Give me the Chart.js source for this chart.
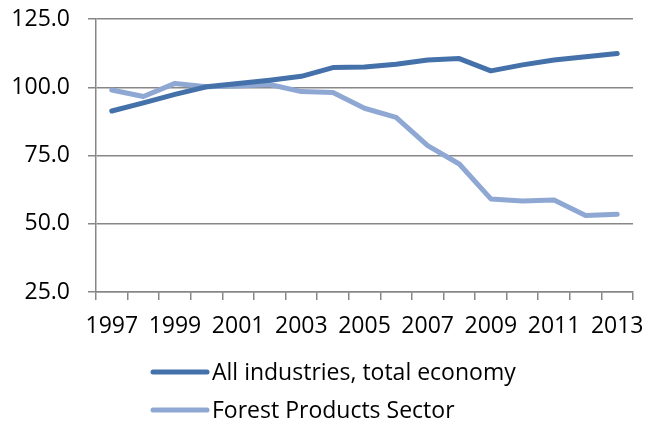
<!DOCTYPE html>
<html>
<head>
<meta charset="utf-8">
<script src="https://cdn.jsdelivr.net/npm/chart.js@4"></script>
<style>
  html, body { margin: 0; padding: 0; background: #fff; }
  #wrap { width: 645px; height: 423px; position: relative; }
</style>
</head>
<body>
<div id="wrap"><canvas id="chart"></canvas></div>
<script>
// ── Data ──────────────────────────────────────────────────
const YEARS = ['1997','1998','1999','2000','2001','2002','2003','2004','2005',
               '2006','2007','2008','2009','2010','2011','2012','2013'];
const ALL_INDUSTRIES = [91.3, 94.3, 97.4, 100.2, 101.4, 102.6, 104.0, 107.2, 107.4,
                        108.4, 110.0, 110.5, 106.0, 108.2, 110.0, 111.2, 112.4];
const FOREST_PRODUCTS = [99.0, 96.6, 101.4, 100.2, 100.5, 101.0, 98.4, 98.1, 92.3,
                         89.0, 78.6, 71.9, 59.1, 58.3, 58.7, 53.0, 53.5];
const SERIES_NAMES = ['All industries, total economy', 'Forest Products Sector'];
const Y_TICKS = [25, 50, 75, 100, 125];

const DARK  = '#4571aa';
const LIGHT = '#8ea8d3';
const GRID  = '#878787';
const FONT  = { family: "'Open Sans', sans-serif", size: 23, lineHeight: 1.2 };

// ── Stacked legend below the plot ─────────────────────────
const stackedLegend = {
  id: 'stackedLegend',
  afterDraw(chart) {
    const ctx = chart.ctx;
    const x0 = 153;
    chart.data.datasets.forEach((ds, i) => {
      const y = 372 + i * 38;
      ctx.save();
      ctx.strokeStyle = ds.borderColor;
      ctx.lineWidth = 5;
      ctx.lineCap = 'round';
      ctx.beginPath();
      ctx.moveTo(x0, y);
      ctx.lineTo(x0 + 54, y);
      ctx.stroke();
      ctx.fillStyle = '#000';
      ctx.font = `${FONT.size}px ${FONT.family}`;
      ctx.textBaseline = 'middle';
      ctx.fillText(ds.label, x0 + 59, y + 1);
      ctx.restore();
    });
  },
};

new Chart(document.getElementById('chart'), {
  type: 'line',
  data: {
    labels: YEARS,
    datasets: [
      { label: SERIES_NAMES[0], data: ALL_INDUSTRIES, borderColor: DARK,
        borderWidth: 5, pointRadius: 0, tension: 0, borderCapStyle: 'round', borderJoinStyle: 'round' },
      { label: SERIES_NAMES[1], data: FOREST_PRODUCTS, borderColor: LIGHT,
        borderWidth: 5, pointRadius: 0, tension: 0, borderCapStyle: 'round', borderJoinStyle: 'round' },
    ],
  },
  options: {
    responsive: true,
    maintainAspectRatio: false,
    animation: false,
    layout: { padding: { top: 19, right: 12, bottom: 83, left: 0 } },
    plugins: { legend: { display: false }, tooltip: { enabled: false } },
    scales: {
      x: {
        offset: true,
        afterFit: axis => { axis.height = 48; axis.paddingLeft = 0; axis.paddingRight = 0; },
        grid: { offset: true, drawOnChartArea: false, drawTicks: true, tickLength: 8,
                color: GRID, lineWidth: 1.5 },
        border: { display: true, color: GRID, width: 1.5 },
        ticks: {
          color: '#000', font: FONT, padding: 13, autoSkip: false, maxRotation: 0,
          callback: (v, i) => (i % 2 === 0 ? YEARS[i] : ''),
        },
      },
      y: {
        min: 25, max: 125,
        afterBuildTicks: axis => { axis.ticks = Y_TICKS.map(v => ({ value: v })); },
        afterFit: axis => { axis.width = 96; axis.paddingTop = 0; axis.paddingBottom = 0; },
        grid: { color: GRID, lineWidth: 1.5, tickLength: 8 },
        border: { display: true, color: GRID, width: 1.5 },
        ticks: { color: '#000', font: FONT, padding: 18, callback: v => v.toFixed(1) },
      },
    },
  },
  plugins: [stackedLegend],
});
</script>
</body>
</html>
